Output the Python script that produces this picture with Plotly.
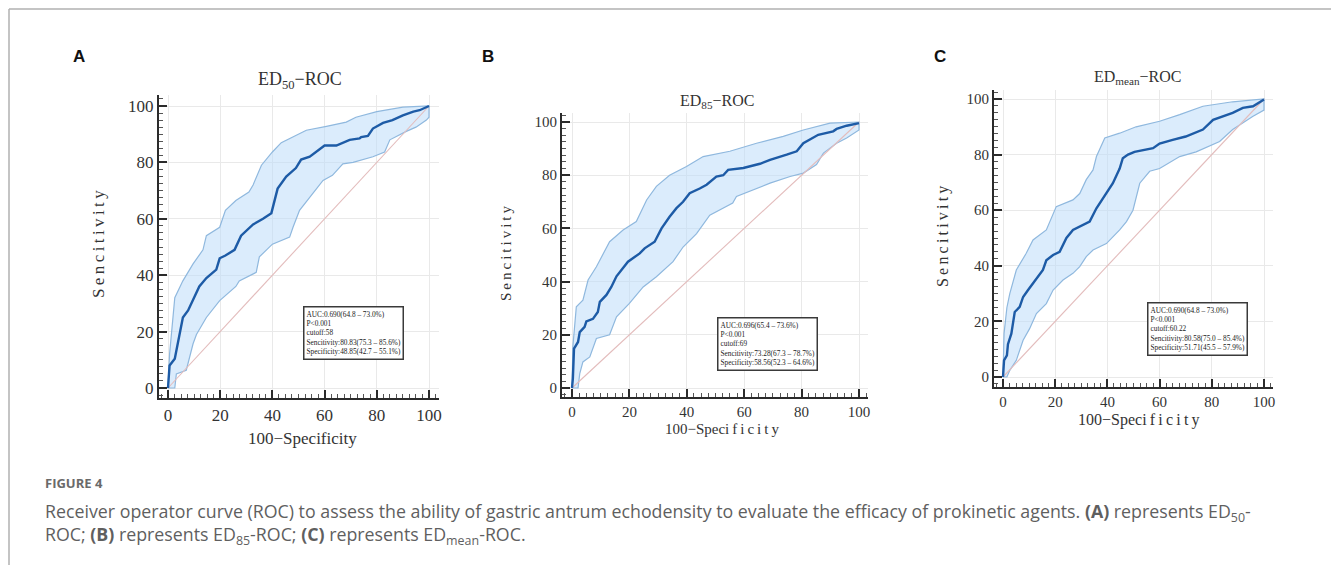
import plotly.graph_objects as go

# ---------------- data ----------------
# Panel A: ED50-ROC
a_main_x = [0, 0.6, 2.6, 4.5, 5.7, 7.7, 9.6, 12, 14.7, 18.5, 19.8, 22, 25.5, 28, 32.6, 36.4, 39.6, 42, 45.3, 49, 51, 54.3, 60, 64.5, 69.6, 73.4, 74, 76.6, 78.5, 82.4, 86, 90, 94, 96.4, 100]
a_main_y = [0, 8, 10.4, 19, 25, 27.5, 31, 36, 39, 42, 46, 47, 49, 54, 58, 60, 62, 70.7, 75, 78, 81, 82, 86, 86, 88, 88.5, 89, 89.4, 92, 94, 95, 96.7, 98, 98.5, 100]
a_up_x = [0, 0.6, 2.6, 5.7, 9.6, 13.4, 14.7, 19.8, 22, 26, 31, 32.6, 35.8, 40, 43.4, 48, 53, 60.7, 68.3, 72, 80, 90, 100]
a_up_y = [0, 12, 32, 38, 44, 49, 54, 57, 63, 66.5, 69.5, 72, 79, 83.7, 87, 89, 91.4, 92.8, 94.3, 96, 98, 99.6, 100]
a_lo_x = [0, 2.6, 3.2, 7, 9.6, 10.9, 14.7, 19.8, 26, 27.3, 33.8, 35, 40, 46.6, 47.9, 50.4, 55.6, 59.4, 63, 67, 70.9, 78.5, 83, 85, 91.3, 95, 99, 100, 100]
a_lo_y = [0, 0, 5, 6.3, 15.7, 19, 25, 31, 36, 38, 41, 46.5, 51, 53.5, 57, 63, 69, 73.6, 75.4, 79.5, 80, 82, 83.7, 88, 91, 92.5, 95, 96, 100]
a_text = ["AUC:0.690(64.8 – 73.0%)", "P<0.001", "cutoff:58",
          "Sencitivity:80.83(75.3 – 85.6%)", "Specificity:48.85(42.7 – 55.1%)"]

# Panel B: ED85-ROC
b_main_x = [0, 0.3, 0.7, 2.1, 2.7, 4.4, 5, 7.3, 9, 9.7, 12, 13.7, 15.5, 19.5, 23.6, 25.3, 28.8, 31.2, 34, 36.4, 38.7, 41, 44.5, 46.9, 50.3, 52.7, 54.4, 59.7, 65.5, 69, 74.8, 78.3, 80.6, 85.8, 91, 92.2, 95.7, 100]
b_main_y = [0, 3.5, 14.8, 17.3, 21, 23, 25, 26, 28.6, 32.4, 35, 38, 42, 47.5, 50.6, 52.5, 55, 60, 64.4, 67.6, 70, 73.2, 75, 76.4, 79.5, 80, 82, 82.7, 84.3, 85.8, 87.7, 89, 92, 95.2, 96.5, 97.4, 98.6, 99.6]
b_up_x = [0, 0.3, 1.5, 3.8, 5.6, 8.5, 13.1, 17.8, 22.4, 26, 29.4, 34, 39.9, 45.7, 55, 64.3, 73.6, 80.6, 89.9, 100]
b_up_y = [0, 15.5, 30.5, 33, 40.6, 45.6, 55, 59.4, 62.6, 70.7, 75.8, 80, 83.3, 87, 89, 92, 94.6, 97, 99.6, 100]
b_lo_x = [0, 2.1, 2.7, 3.8, 6.2, 8.5, 13.1, 15.5, 20, 24.8, 29.4, 35.2, 38.7, 43.4, 48, 52.7, 56, 57.3, 62, 69, 76, 80.6, 85.2, 87.6, 92.2, 95.7, 100, 100]
b_lo_y = [0, 0, 5.4, 9.8, 11.7, 18.6, 20, 26.8, 31.8, 38, 41.8, 47.5, 53, 58, 65, 67.6, 69.5, 72, 73.9, 77, 79.5, 80.8, 84, 88.3, 92, 94, 97, 99.6]
b_text = ["AUC:0.696(65.4 – 73.6%)", "P<0.001", "cutoff:69",
          "Sencitivity:73.28(67.3 – 78.7%)", "Specificity:58.56(52.3 – 64.6%)"]

# Panel C: EDmean-ROC
c_main_x = [0, 0.4, 1.5, 1.9, 3.2, 3.8, 4.5, 6.4, 7.7, 9.6, 11.5, 13.4, 15.3, 16.6, 19.2, 21.7, 24.3, 26.8, 30.7, 33.2, 35.8, 38.3, 40.2, 42.1, 44.7, 45.9, 47.9, 50.4, 57.5, 60, 65, 70, 76.6, 80.5, 88, 91.9, 95.8, 100]
c_main_y = [0, 6, 7.8, 11.8, 15.6, 18.6, 23.4, 25.2, 28.8, 31.3, 33.6, 36, 38.5, 42, 43.9, 45, 50, 52.9, 54.7, 55.9, 60.7, 64.3, 66.7, 69.7, 75, 78.7, 80, 81, 82.3, 84, 85.3, 86.5, 89, 92.5, 95, 96.8, 97.4, 99.8]
c_up_x = [0, 0.4, 1.5, 2.6, 5.1, 8.9, 11.5, 16.6, 20.4, 26.8, 29.4, 31.9, 34.5, 35.8, 39, 44.7, 51, 60, 67.7, 76.6, 88, 100]
c_up_y = [0, 15.6, 25, 30, 38.5, 44.5, 49.3, 52.9, 61.3, 63.7, 66, 71, 74.5, 79.3, 86, 87.7, 90, 92, 94.4, 97.4, 99, 100]
c_lo_x = [0, 1.5, 2.6, 5.1, 7.7, 10.2, 12.8, 16.6, 19.2, 23, 26.8, 29.4, 31.9, 34.5, 39.6, 44.7, 47.3, 49.8, 52.4, 56.2, 60, 67.7, 74, 83, 88, 95.8, 100, 100]
c_lo_y = [0, 0, 2.4, 6, 13.2, 17.4, 22.8, 26.4, 31.3, 34.9, 37.3, 39.7, 43.3, 45.7, 48, 52.9, 55.9, 60, 69.7, 74, 75, 79.3, 81, 84.7, 89, 93.8, 96, 99.8]
c_text = ["AUC:0.690(64.8 – 73.0%)", "P<0.001", "cutoff:60.22",
          "Sencitivity:80.58(75.0 – 85.4%)", "Specificity:51.71(45.5 – 57.9%)"]

diag = [0, 100]
tick_vals = [0, 20, 40, 60, 80, 100]
tick_text = ["0", "20", "40", "60", "80", "100"]

# ---------------- layout / style ----------------
W, H = 1331, 565
SERIF = "Liberation Serif, Times New Roman, serif"
MAIN = "#1d5ba6"
BAND_FILL = "rgba(190,220,250,0.55)"
BAND_LINE = "#8fb8de"
DIAG = "#e3bcbc"
YT = "\u2009".join("Sencitivity")
XT_SPACED = "100−Spec" + "\u2009".join("ificity")

panels = [
    dict(name="A", mx=a_main_x, my=a_main_y, ux=a_up_x, uy=a_up_y, lx=a_lo_x, ly=a_lo_y, txt=a_text,
         x0=168, x100=429, left=159, right=439, y100=106, y0=388, top=95, bottom=398,
         title="ED<sub>50</sub>−ROC", tsize=18, tpos=(300, 80),
         xt="100−Specificity", xtpos=(302, 438), yt=YT, ytpos=(98, 244),
         axsize=17, fsize=17, box=(303, 306), lab=(79, 57)),
    dict(name="B", mx=b_main_x, my=b_main_y, ux=b_up_x, uy=b_up_y, lx=b_lo_x, ly=b_lo_y, txt=b_text,
         x0=572, x100=859, left=562, right=868, y100=122, y0=388, top=113, bottom=397,
         title="ED<sub>85</sub>−ROC", tsize=16, tpos=(717, 101),
         xt=XT_SPACED, xtpos=(722, 429), yt=YT, ytpos=(506, 253),
         axsize=15, fsize=15, box=(717, 317), lab=(488, 57)),
    dict(name="C", mx=c_main_x, my=c_main_y, ux=c_up_x, uy=c_up_y, lx=c_lo_x, ly=c_lo_y, txt=c_text,
         x0=1003, x100=1264, left=994, right=1273, y100=99, y0=377, top=90, bottom=387,
         title="ED<sub>mean</sub>−ROC", tsize=16, tpos=(1137, 77),
         xt=XT_SPACED, xtpos=(1139, 420), yt=YT, ytpos=(943, 237),
         axsize=15, fsize=16, box=(1147, 302), lab=(940, 57)),
]

fig = go.Figure()
annotations = []
shapes = []

for i, p in enumerate(panels):
    ax = "" if i == 0 else str(i + 1)
    xr = "x" + ax
    yr = "y" + ax
    sx = (p["x100"] - p["x0"]) / 100.0
    sy = (p["y0"] - p["y100"]) / 100.0
    xrange = [(p["left"] - p["x0"]) / sx, 100 + (p["right"] - p["x100"]) / sx]
    yrange = [-(p["bottom"] - p["y0"]) / sy, 100 + (p["y100"] - p["top"]) / sy]

    fig.add_trace(go.Scatter(
        x=p["ux"] + p["lx"][::-1], y=p["uy"] + p["ly"][::-1],
        fill="toself", fillcolor=BAND_FILL, mode="lines",
        line=dict(color=BAND_LINE, width=1.2), xaxis=xr, yaxis=yr,
        showlegend=False, hoverinfo="skip"))
    fig.add_trace(go.Scatter(x=diag, y=diag, mode="lines",
                             line=dict(color=DIAG, width=1.1),
                             xaxis=xr, yaxis=yr, showlegend=False, hoverinfo="skip"))
    fig.add_trace(go.Scatter(x=p["mx"], y=p["my"], mode="lines",
                             line=dict(color=MAIN, width=2.4),
                             xaxis=xr, yaxis=yr, showlegend=False))

    common = dict(
        showline=True, linecolor="#2b2b2b", linewidth=2.2,
        ticks="inside", ticklen=8, tickwidth=1.6, tickcolor="#2b2b2b",
        tickvals=tick_vals, ticktext=tick_text,
        showgrid=True, gridcolor="#e9e9e9", gridwidth=1, zeroline=False,
        minor=dict(ticks="inside", ticklen=4, tickwidth=1, tickcolor="#555",
                   dtick=2.5, tick0=0, showgrid=False),
        tickfont=dict(family=SERIF, size=p["axsize"], color="#333"),
        automargin=False, fixedrange=True,
    )
    fig.layout["xaxis" + ax] = dict(common, range=xrange,
                                    domain=[p["left"] / W, p["right"] / W], anchor=yr)
    fig.layout["yaxis" + ax] = dict(common, range=yrange,
                                    domain=[1 - p["bottom"] / H, 1 - p["top"] / H], anchor=xr)

    annotations.append(dict(text=p["title"], x=p["tpos"][0] / W, y=1 - p["tpos"][1] / H,
                            xref="paper", yref="paper", showarrow=False,
                            xanchor="center", yanchor="middle",
                            font=dict(family=SERIF, size=p["tsize"], color="#333")))
    annotations.append(dict(text=p["xt"], x=p["xtpos"][0] / W, y=1 - p["xtpos"][1] / H,
                            xref="paper", yref="paper", showarrow=False,
                            xanchor="center", yanchor="middle",
                            font=dict(family=SERIF, size=p["fsize"], color="#333")))
    annotations.append(dict(text=p["yt"], x=p["ytpos"][0] / W, y=1 - p["ytpos"][1] / H,
                            xref="paper", yref="paper", showarrow=False, textangle=-90,
                            xanchor="center", yanchor="middle",
                            font=dict(family=SERIF, size=p["fsize"], color="#333")))
    annotations.append(dict(text="<br>".join(p["txt"]), x=p["box"][0] / W, y=1 - p["box"][1] / H,
                            xref="paper", yref="paper", showarrow=False,
                            xanchor="left", yanchor="top", align="left",
                            bordercolor="#3a3a3a", borderwidth=1.5, borderpad=2,
                            bgcolor="white",
                            font=dict(family=SERIF, size=7.3, color="#1a1a1a")))
    annotations.append(dict(text="<b>%s</b>" % p["name"], x=p["lab"][0] / W, y=1 - p["lab"][1] / H,
                            xref="paper", yref="paper", showarrow=False,
                            xanchor="center", yanchor="middle",
                            font=dict(family="Liberation Sans, Arial, sans-serif", size=17, color="#111")))

# caption
CAP = "Open Sans, sans-serif"
annotations.append(dict(text="<b>FIGURE 4</b>", x=43 / W, y=1 - 483 / H, xref="paper", yref="paper",
                        showarrow=False, xanchor="left", yanchor="middle",
                        font=dict(family=CAP, size=13, color="#6a6a6a")))
annotations.append(dict(
    text=("Receiver operator curve (ROC) to assess the ability of gastric antrum echodensity to evaluate "
          "the efficacy of prokinetic agents. <b>(A)</b> represents ED<sub>50</sub>-"),
    x=43 / W, y=1 - 512 / H, xref="paper", yref="paper", showarrow=False,
    xanchor="left", yanchor="middle", font=dict(family=CAP, size=17.8, color="#5f5f5f")))
annotations.append(dict(
    text="ROC; <b>(B)</b> represents ED<sub>85</sub>-ROC; <b>(C)</b> represents ED<sub>mean</sub>-ROC.",
    x=43 / W, y=1 - 535 / H, xref="paper", yref="paper", showarrow=False,
    xanchor="left", yanchor="middle", font=dict(family=CAP, size=17.8, color="#5f5f5f")))

# frame lines
shapes.append(dict(type="line", xref="paper", yref="paper", x0=9 / W, x1=1, y0=1 - 9 / H, y1=1 - 9 / H,
                   line=dict(color="#b0b0b0", width=1.5)))
shapes.append(dict(type="line", xref="paper", yref="paper", x0=9 / W, x1=9 / W, y0=0, y1=1 - 9 / H,
                   line=dict(color="#b0b0b0", width=1.5)))

fig.update_layout(width=W, height=H, margin=dict(l=0, r=0, t=0, b=0),
                  paper_bgcolor="white", plot_bgcolor="white",
                  annotations=annotations, shapes=shapes, showlegend=False)

fig.write_html("out.html", include_plotlyjs=True, config={"displayModeBar": False},
               post_script="document.body.style.margin='0';document.body.style.overflow='hidden';")
